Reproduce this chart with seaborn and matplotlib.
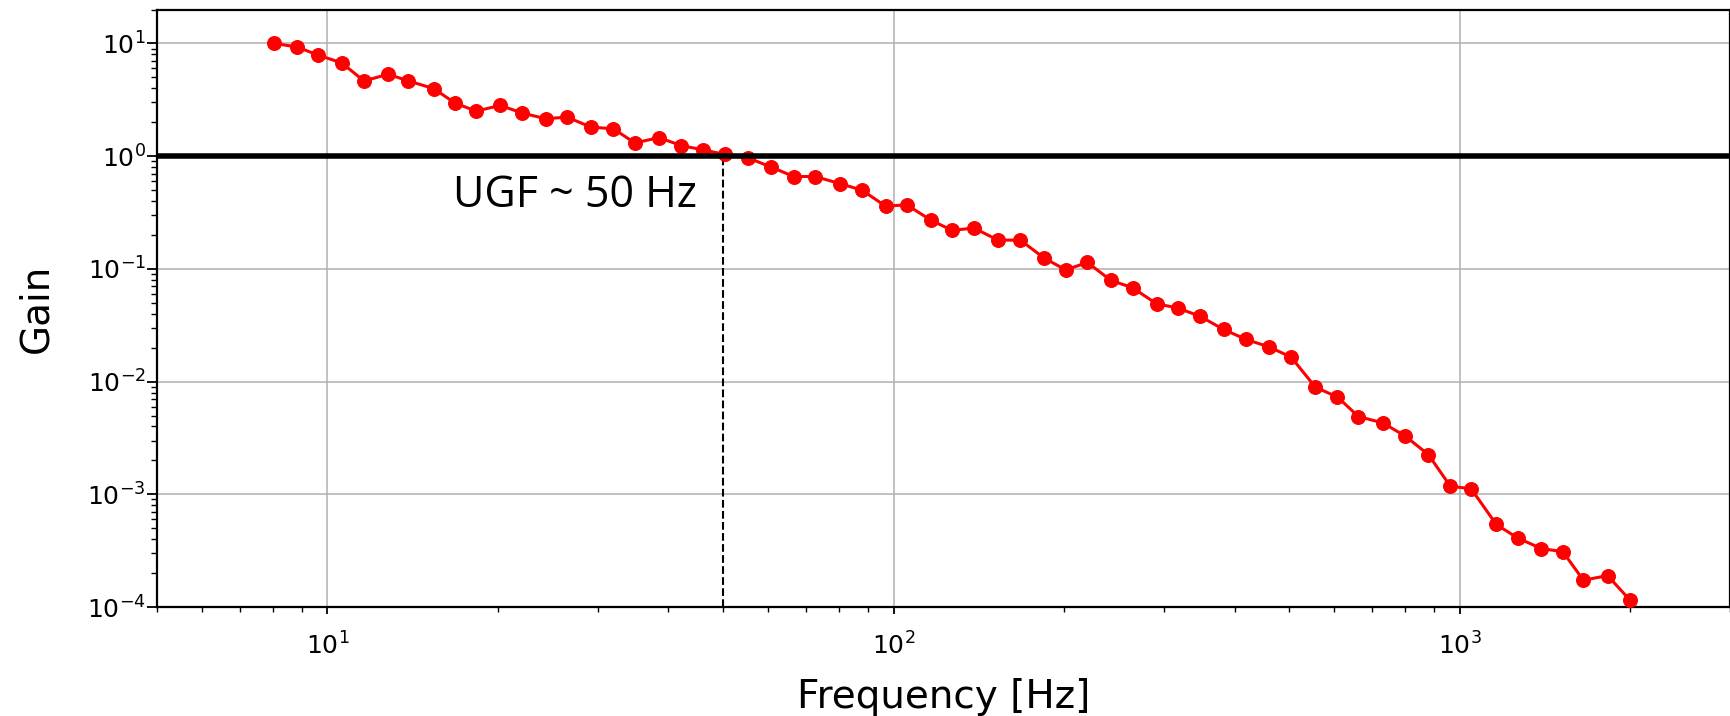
import numpy as np
import pandas as pd
import matplotlib
matplotlib.use("Agg")
import matplotlib.pyplot as plt
import seaborn as sns

freq = [8.05, 8.82, 9.64, 10.6, 11.6, 12.8, 13.9, 15.4, 16.8, 18.3,
        20.2, 22.1, 24.3, 26.5, 29.2, 32.0, 34.9, 38.5, 42.2, 46.0,
        50.4, 55.3, 60.8, 66.6, 72.7, 80.4, 87.9, 96.8, 105.5, 116.4,
        126.8, 138.7, 152.8, 167.4, 184.3, 201.3, 219.9, 242.0, 264.3, 291.3,
        317.6, 347.5, 382.8, 419.0, 460.5, 503.5, 556.0, 608.0, 662.0, 731.0,
        800.0, 880.0, 962.0, 1047.0, 1160.0, 1265.0, 1393.0, 1520.0, 1653.0, 1824.0,
        1995.0]
gain = [10.0, 9.33, 7.87, 6.72, 4.65, 5.33, 4.65, 3.98, 2.96, 2.51,
        2.82, 2.41, 2.15, 2.22, 1.81, 1.75, 1.31, 1.46, 1.24, 1.14,
        1.035, 0.966, 0.80, 0.66, 0.66, 0.57, 0.50, 0.36, 0.37, 0.27,
        0.22, 0.23, 0.18, 0.18, 0.125, 0.098, 0.114, 0.079, 0.068, 0.049,
        0.045, 0.038, 0.029, 0.0237, 0.0203, 0.0165, 0.0089, 0.0073, 0.0049, 0.0043,
        0.0033, 0.00225, 0.00118, 0.00112, 0.00054, 0.00041, 0.00033, 0.00031, 0.000173, 0.00019,
        0.000116]

ugf = 50
ugf_label = "UGF ~ 50 Hz"

df = pd.DataFrame({"Frequency": freq, "Gain": gain})

fig = plt.figure(figsize=(17.31, 7.16), dpi=100)
ax = fig.add_axes([0.0907, 0.1522, 0.9087, 0.8345])

ax.set_xscale("log")
ax.set_yscale("log")

sns.lineplot(data=df, x="Frequency", y="Gain", ax=ax, color="red",
             marker="o", markersize=10, markeredgecolor="red",
             linewidth=2.2, sort=False, zorder=3)

# unity gain line and UGF marker
ax.axhline(1, color="black", linewidth=4, zorder=4)
ax.plot([ugf, ugf], [1e-4, 1], color="black", linestyle="--", linewidth=1.5, zorder=2)
ax.text(45, 0.355, ugf_label, ha="right", va="baseline",
        fontsize=31, family=["Open Sans", "DejaVu Sans"])

ax.set_xlim(5, 3000)
ax.set_ylim(1e-4, 20)

ax.grid(True, which="major", color="#b0b0b0", linewidth=1.1)
ax.set_axisbelow(True)

for s in ax.spines.values():
    s.set_linewidth(1.6)
    s.set_color("black")

ax.tick_params(axis="y", which="major", length=7, width=1.3, pad=1, labelsize=18)
ax.tick_params(axis="y", which="minor", length=4, width=1.0)
ax.tick_params(axis="x", which="major", length=5, width=1.3, pad=13, labelsize=18)
ax.tick_params(axis="x", which="minor", length=3.5, width=1.0)

ax.set_xlabel("Frequency [Hz]", fontsize=28)
ax.set_ylabel("Gain", fontsize=28)
ax.xaxis.set_label_coords(0.5, -0.119)
ax.yaxis.set_label_coords(-0.0645, 0.5)

fig.savefig("out.png", dpi=100)
